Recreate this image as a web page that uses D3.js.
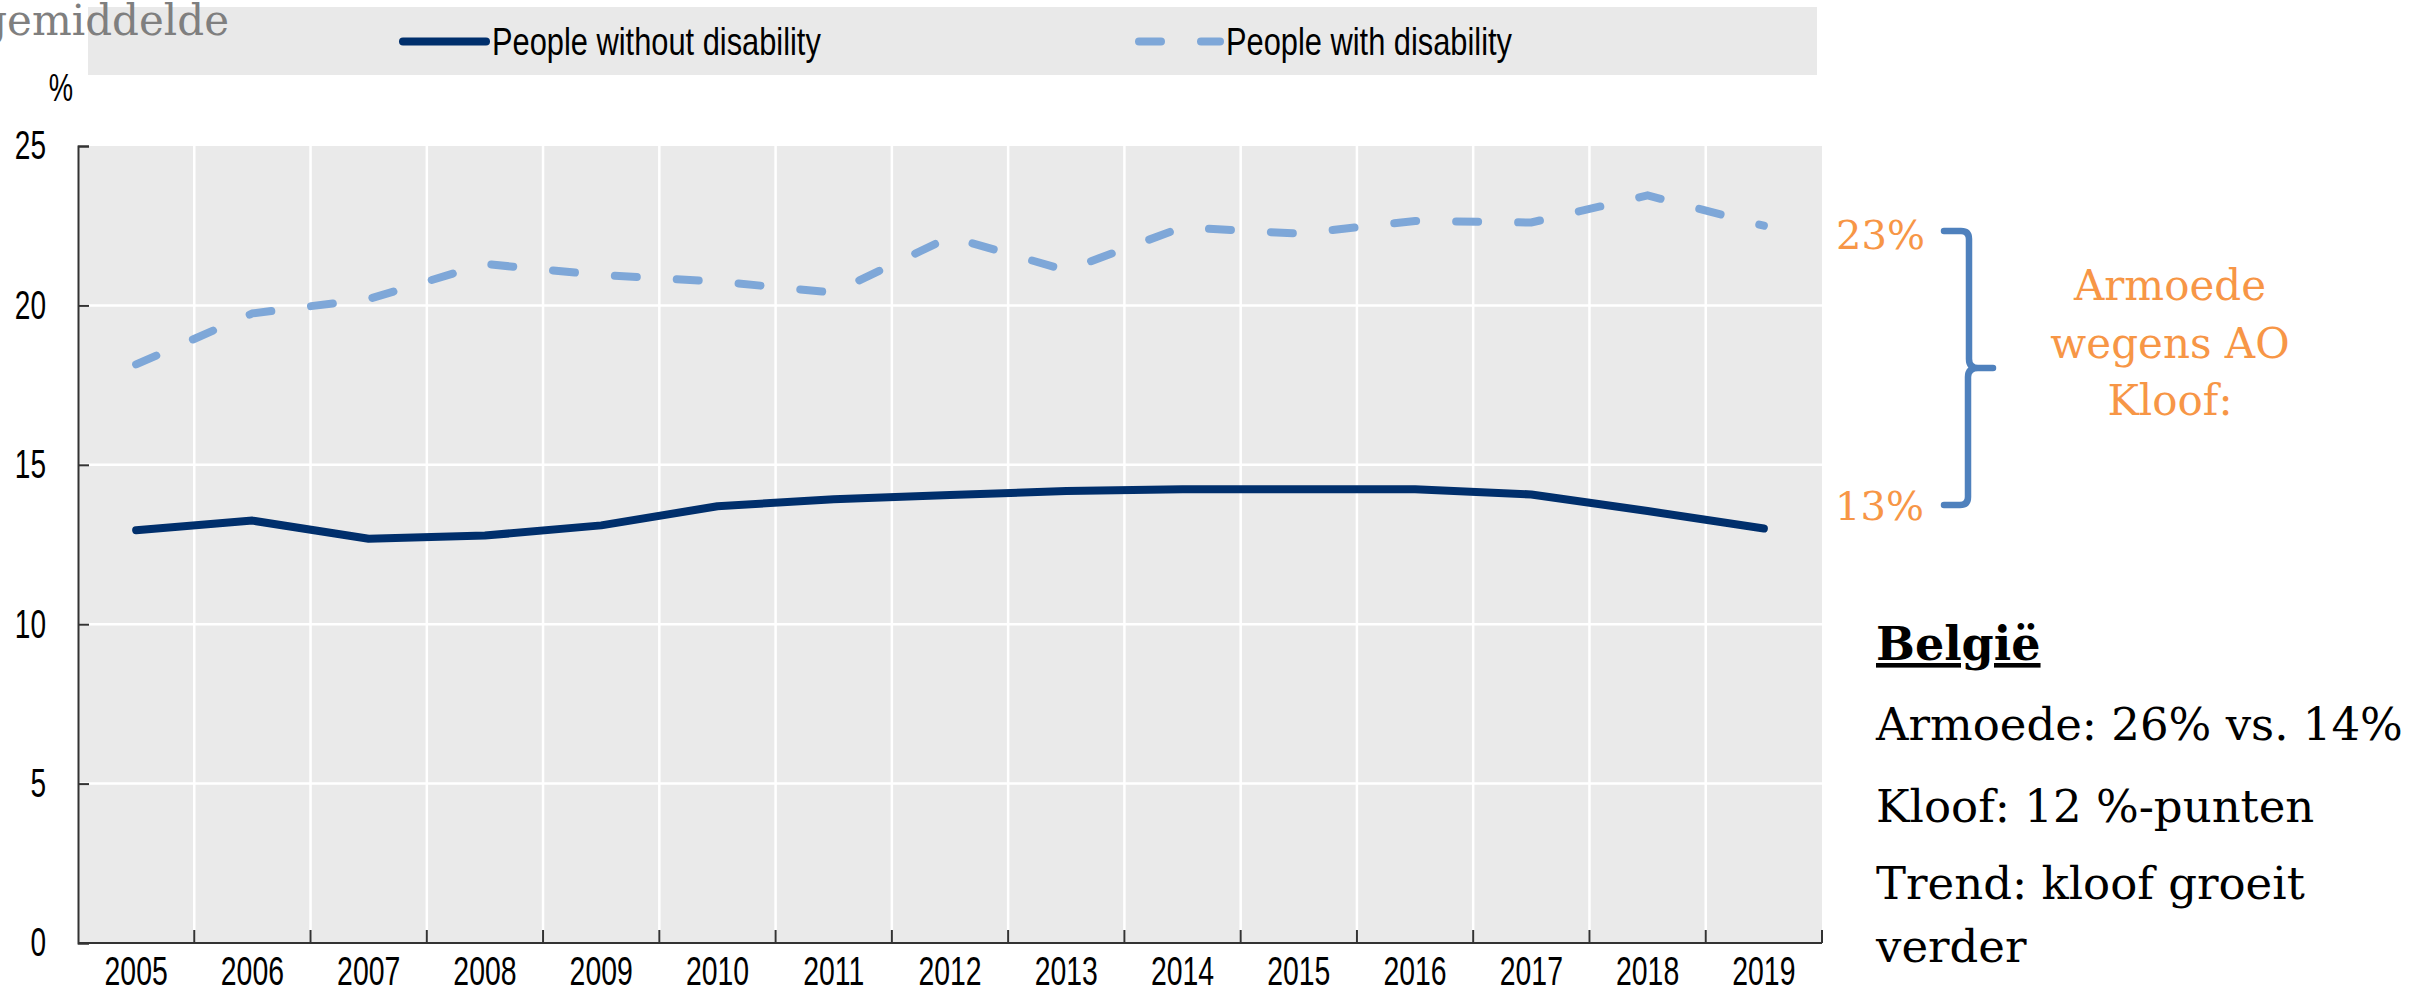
<!DOCTYPE html>
<html>
<head>
<meta charset="utf-8">
<script src="https://cdn.jsdelivr.net/npm/d3@7"></script>
<style>
  body { margin: 0; background: #fff; }
  .axis text { fill: #000; }
</style>
</head>
<body>
<div id="chart"></div>
<script>
const years = ["2005", "2006", "2007", "2008", "2009", "2010", "2011", "2012", "2013", "2014", "2015", "2016", "2017", "2018", "2019"];
const withoutDisability = [12.95, 13.25, 12.68, 12.78, 13.1, 13.7, 13.92, 14.05, 14.18, 14.23, 14.23, 14.23, 14.07, 13.55, 13.0];
const withDisability = [18.15, 19.75, 20.2, 21.3, 20.95, 20.75, 20.4, 22.15, 21.1, 22.45, 22.25, 22.65, 22.6, 23.45, 22.5];
const yTicks = [0, 5, 10, 15, 20, 25];
const seriesNames = ["People without disability", "People with disability"];
const gapLabels = ["23%", "13%"];
const gapTitle = ["Armoede", "wegens AO", "Kloof:"];
const countryTitle = "België";
const countryLines = ["Armoede: 26% vs. 14%", "Kloof: 12 %-punten", "Trend: kloof groeit", "verder"];

const svgWidth = 2419;
const svgHeight = 994;

const plot = { left: 78, right: 1822, top: 146, bottom: 943 };

const navy = "#002F6C";
const lightBlue = "#7EA7D8";
const orange = "#F79646";
const serif = "'DejaVu Serif', Georgia, serif";
const sans = "'Liberation Sans', Arial, sans-serif";

// Arial Narrow look: squeeze Liberation Sans horizontally
function narrow(sel, ratio) {
  sel.each(function () {
    const len = this.getComputedTextLength();
    d3.select(this)
      .attr("textLength", len * (ratio || 0.8))
      .attr("lengthAdjust", "spacingAndGlyphs");
  });
}

const svg = d3.select("#chart")
  .append("svg")
  .attr("width", svgWidth)
  .attr("height", svgHeight);

const x = d3.scaleBand()
  .domain(years)
  .range([plot.left, plot.right]);

const y = d3.scaleLinear()
  .domain([0, 25])
  .range([plot.bottom, plot.top]);

// plot background
svg.append("rect")
  .attr("x", plot.left)
  .attr("y", plot.top)
  .attr("width", plot.right - plot.left)
  .attr("height", plot.bottom - plot.top)
  .attr("fill", "#EAEAEA");

// gridlines
svg.append("g")
  .selectAll("line")
  .data(yTicks.filter(d => d > 0 && d < 25))
  .enter()
  .append("line")
  .attr("x1", plot.left)
  .attr("x2", plot.right)
  .attr("y1", d => y(d))
  .attr("y2", d => y(d))
  .attr("stroke", "#fff")
  .attr("stroke-width", 2.5);

svg.append("g")
  .selectAll("line")
  .data(years.slice(1))
  .enter()
  .append("line")
  .attr("x1", d => x(d))
  .attr("x2", d => x(d))
  .attr("y1", plot.top)
  .attr("y2", plot.bottom)
  .attr("stroke", "#fff")
  .attr("stroke-width", 2.5);

// axes
const leftAxis = d3.axisLeft(y)
  .tickValues(yTicks)
  .tickSize(-11)
  .tickPadding(32);

const yAxisG = svg.append("g")
  .attr("class", "axis")
  .attr("transform", `translate(${plot.left},0)`)
  .call(leftAxis);
yAxisG.selectAll("text").attr("font-size", 40).attr("font-family", sans).call(narrow, 0.7);
yAxisG.selectAll("path, line").attr("stroke", "#333").attr("stroke-width", 2);

const bottomAxis = d3.axisBottom(x)
  .tickSize(0)
  .tickPadding(14);

const xAxisG = svg.append("g")
  .attr("class", "axis")
  .attr("transform", `translate(0,${plot.bottom})`)
  .call(bottomAxis);
xAxisG.select(".domain").remove();
xAxisG.selectAll("text").attr("font-size", 40).attr("font-family", sans).call(narrow, 0.71);

svg.append("line")
  .attr("x1", plot.left)
  .attr("x2", plot.right)
  .attr("y1", plot.bottom)
  .attr("y2", plot.bottom)
  .attr("stroke", "#333")
  .attr("stroke-width", 2);

svg.append("g")
  .selectAll("line")
  .data(years.slice(1).map(d => x(d)).concat([plot.right]))
  .enter()
  .append("line")
  .attr("x1", d => d)
  .attr("x2", d => d)
  .attr("y1", plot.bottom)
  .attr("y2", plot.bottom - 13)
  .attr("stroke", "#333")
  .attr("stroke-width", 2);

// unit label
svg.append("text")
  .attr("x", 61)
  .attr("y", 101)
  .attr("text-anchor", "middle")
  .attr("font-family", sans)
  .attr("font-size", 38)
  .text("%")
  .call(narrow, 0.72);

// lines
const line = d3.line()
  .x((d, i) => x(years[i]) + x.bandwidth() / 2)
  .y(d => y(d));

svg.append("path")
  .datum(withDisability)
  .attr("d", line)
  .attr("fill", "none")
  .attr("stroke", lightBlue)
  .attr("stroke-width", 8)
  .attr("stroke-linecap", "round")
  .attr("stroke-dasharray", "22 40");

svg.append("path")
  .datum(withoutDisability)
  .attr("d", line)
  .attr("fill", "none")
  .attr("stroke", navy)
  .attr("stroke-width", 8)
  .attr("stroke-linejoin", "round")
  .attr("stroke-linecap", "round");

// legend
svg.append("rect")
  .attr("x", 88)
  .attr("y", 7)
  .attr("width", 1729)
  .attr("height", 68)
  .attr("fill", "#E9E9E9");

const legend = [
  { name: seriesNames[0], x1: 403, x2: 486, tx: 492, color: navy, dash: null },
  { name: seriesNames[1], x1: 1139, x2: 1220, tx: 1226, color: lightBlue, dash: "22 40" }
];

legend.forEach(function (l) {
  svg.append("line")
    .attr("x1", l.x1)
    .attr("x2", l.x2)
    .attr("y1", 41.5)
    .attr("y2", 41.5)
    .attr("stroke", l.color)
    .attr("stroke-width", 8)
    .attr("stroke-linecap", "round")
    .attr("stroke-dasharray", l.dash);

  svg.append("text")
    .attr("x", l.tx)
    .attr("y", 55)
    .attr("font-family", sans)
    .attr("font-size", 39)
    .text(l.name)
    .call(narrow, 0.79);
});

// clipped heading leftover
svg.append("text")
  .attr("x", 229)
  .attr("y", 35)
  .attr("text-anchor", "end")
  .attr("font-family", serif)
  .attr("font-size", 42)
  .attr("fill", "#7F7F7F")
  .text("gemiddelde");

// gap annotation
svg.append("text")
  .attr("x", 1925)
  .attr("y", 249)
  .attr("text-anchor", "end")
  .attr("font-family", serif)
  .attr("font-size", 40)
  .attr("fill", orange)
  .text(gapLabels[0]);

svg.append("text")
  .attr("x", 1924)
  .attr("y", 520)
  .attr("text-anchor", "end")
  .attr("font-family", serif)
  .attr("font-size", 40)
  .attr("fill", orange)
  .text(gapLabels[1]);

svg.append("path")
  .attr("d", "M1944,231 H1961 Q1969,231 1969,239 V359 Q1969,368 1978,368 H1993 M1978,368 Q1968,368 1968,377 V497 Q1968,505 1960,505 H1944")
  .attr("fill", "none")
  .attr("stroke", "#4F81BD")
  .attr("stroke-width", 6.5)
  .attr("stroke-linecap", "round")
  .attr("stroke-linejoin", "round");

svg.append("g")
  .selectAll("text")
  .data(gapTitle)
  .enter()
  .append("text")
  .attr("x", 2170)
  .attr("y", (d, i) => 300 + i * 57.5)
  .attr("text-anchor", "middle")
  .attr("font-family", serif)
  .attr("font-size", 42)
  .attr("fill", orange)
  .text(d => d);

// country summary
svg.append("text")
  .attr("x", 1876)
  .attr("y", 660)
  .attr("font-family", serif)
  .attr("font-size", 46)
  .attr("font-weight", "bold")
  .attr("text-decoration", "underline")
  .text(countryTitle);

const lineY = [740, 822, 899, 962];
svg.append("g")
  .selectAll("text")
  .data(countryLines)
  .enter()
  .append("text")
  .attr("x", 1876)
  .attr("y", (d, i) => lineY[i])
  .attr("font-family", serif)
  .attr("font-size", 45)
  .text(d => d);
</script>
</body>
</html>
